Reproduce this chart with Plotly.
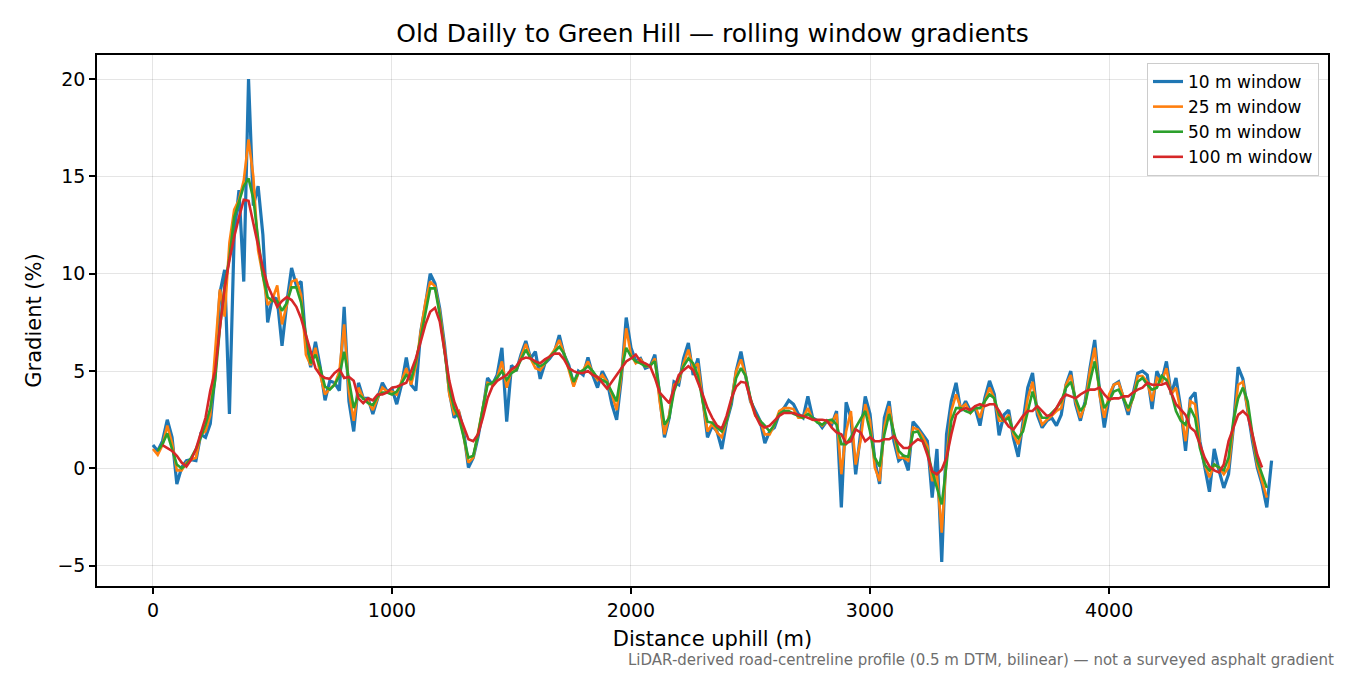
import plotly.graph_objects as go

# sample positions along the climb, every 20 m
distance_m = list(range(0, 4700, 20))

# gradient (%), one row = 200 m
grad_10m = [
    1.2, 0.9, 1.4, 2.5, 1.6, -0.8, 0.05, 0.4, 0.45, 0.4,
    1.75, 1.6, 2.3, 4.8, 9.0, 10.2, 2.8, 12.0, 14.3, 9.6,
    20.0, 13.5, 14.5, 12.0, 7.5, 8.8, 8.7, 6.3, 8.5, 10.3,
    9.4, 9.6, 6.4, 5.2, 6.5, 5.2, 3.5, 4.5, 4.4, 4.0,
    8.3, 3.45, 1.9, 4.4, 3.6, 3.6, 2.8, 3.6, 4.4, 3.95,
    4.1, 3.3, 4.3, 5.7, 4.3, 4.0, 7.0, 8.4, 10.0, 9.5,
    8.2, 6.35, 3.95, 2.6, 2.9, 1.9, 0.05, 0.55, 1.6, 2.95,
    4.65, 4.3, 4.8, 6.2, 2.4, 5.3, 5.0, 5.85, 6.55, 5.65,
    6.0, 4.6, 5.4, 5.65, 6.0, 6.85, 5.85, 5.3, 4.3, 5.0,
    4.8, 5.7, 4.8, 4.15, 5.0, 4.5, 3.3, 2.5, 4.65, 7.75,
    6.2, 5.5, 5.65, 5.15, 5.25, 5.85, 3.6, 1.6, 2.6, 4.45,
    4.3, 5.65, 6.45, 4.8, 5.65, 3.45, 1.6, 2.2, 1.9, 1.0,
    2.4, 3.3, 5.0, 6.0, 4.8, 3.45, 2.95, 2.45, 1.3, 1.9,
    2.1, 2.8, 3.1, 3.5, 3.3, 2.8, 2.6, 3.7, 2.6, 2.45,
    2.1, 2.45, 2.25, 2.95, -2.0, 3.4, 2.6, -0.3, 1.75, 3.7,
    2.8, 0.4, -0.8, 2.6, 3.45, 1.4, 0.4, 0.6, -0.1, 2.4,
    2.1, 1.75, 1.4, -1.5, 1.0, -4.8, 1.75, 3.45, 4.4, 2.95,
    3.45, 2.95, 3.1, 2.2, 3.6, 4.5, 3.8, 1.7, 2.75, 3.0,
    1.55, 0.6, 2.25, 4.15, 4.9, 2.75, 2.1, 2.45, 2.6, 2.2,
    2.75, 4.3, 5.0, 3.3, 2.45, 3.45, 5.15, 6.6, 4.0, 2.1,
    3.6, 4.3, 4.45, 3.6, 2.75, 3.8, 4.9, 5.0, 4.8, 3.05,
    5.0, 4.45, 5.5, 3.8, 4.65, 3.1, 0.9, 3.6, 3.9, 1.4,
    0.2, -1.2, 1.0, -0.1, -1.0, -0.3, 2.1, 5.2, 4.6, 2.95,
    1.4, 0.05, -0.8, -2.0, 0.4,
]

grad_25m = [
    1.0, 0.7, 1.2, 2.2, 1.3, -0.1, -0.1, 0.3, 0.45, 0.55,
    1.75, 1.9, 2.75, 5.85, 9.2, 7.8, 11.6, 13.3, 13.8, 14.8,
    16.9, 15.0, 11.2, 9.9, 8.4, 8.7, 9.4, 7.4, 8.4, 9.6,
    9.7, 8.9, 5.85, 5.3, 6.2, 4.8, 3.8, 4.1, 4.3, 5.0,
    7.4, 3.95, 2.45, 4.15, 3.6, 3.45, 3.0, 3.6, 4.15, 3.95,
    3.95, 3.8, 4.5, 5.15, 4.3, 5.25, 7.0, 8.55, 9.6, 9.35,
    8.05, 6.2, 3.8, 2.8, 2.95, 1.65, 0.3, 0.55, 1.75, 3.1,
    4.4, 4.3, 4.65, 5.5, 4.15, 5.0, 5.05, 5.7, 6.4, 5.65,
    5.15, 5.05, 5.4, 5.75, 6.1, 6.6, 5.9, 5.05, 4.2, 4.9,
    5.05, 5.5, 4.9, 4.55, 4.8, 4.45, 3.8, 3.0, 4.8, 7.2,
    5.85, 5.4, 5.6, 5.25, 5.25, 5.65, 3.45, 1.75, 2.75, 4.3,
    4.45, 5.4, 6.1, 5.15, 5.4, 3.45, 1.9, 2.3, 1.85, 1.6,
    2.45, 3.45, 5.0, 5.6, 4.75, 3.45, 2.7, 2.45, 1.75, 1.75,
    2.25, 2.95, 3.1, 3.1, 3.05, 2.6, 2.6, 3.1, 2.5, 2.45,
    2.2, 2.45, 2.35, 2.8, -0.3, 1.9, 2.95, 0.2, 1.4, 3.3,
    2.45, 0.05, -0.65, 2.1, 3.2, 1.75, 0.55, 0.55, 0.4, 2.1,
    2.0, 1.65, 1.15, -0.65, -0.3, -3.3, 0.55, 2.95, 3.8, 3.1,
    3.3, 2.85, 3.2, 2.6, 3.45, 4.15, 3.6, 2.45, 2.45, 2.75,
    1.75, 1.25, 2.1, 3.6, 4.45, 2.95, 2.25, 2.5, 2.7, 2.95,
    3.1, 4.3, 4.8, 3.45, 2.6, 3.3, 5.0, 6.2, 3.8, 2.6,
    3.8, 4.3, 4.4, 3.7, 2.95, 3.6, 4.75, 4.75, 4.45, 3.45,
    4.65, 4.45, 5.15, 3.8, 4.15, 2.95, 1.4, 3.45, 3.3, 1.25,
    0.2, -0.45, 0.2, 0.05, -0.3, 0.05, 2.25, 4.3, 4.45, 3.1,
    1.55, 0.2, -0.65, -1.5, None,
]

grad_50m = [
    None, 0.9, 1.25, 1.8, 1.05, 0.2, 0.0, 0.2, 0.55, 1.0,
    1.6, 2.25, 3.1, 4.5, 7.2, 9.4, 10.8, 12.9, 13.7, 14.5,
    14.9, 13.85, 11.8, 9.9, 8.8, 8.6, 8.6, 8.1, 8.5, 9.3,
    9.3, 8.5, 6.85, 5.4, 5.85, 5.15, 4.2, 4.05, 4.3, 4.75,
    6.0, 4.65, 3.1, 3.8, 3.6, 3.35, 3.25, 3.7, 3.9, 3.9,
    3.8, 3.95, 4.4, 4.8, 4.55, 5.5, 6.7, 8.05, 9.25, 9.25,
    7.9, 6.0, 4.15, 3.1, 2.6, 1.6, 0.55, 0.65, 1.75, 3.1,
    4.3, 4.4, 4.65, 5.0, 4.55, 4.9, 5.05, 5.6, 6.1, 5.65,
    5.4, 5.25, 5.4, 5.75, 6.0, 6.25, 5.9, 5.15, 4.45, 4.9,
    5.05, 5.25, 5.0, 4.65, 4.55, 4.4, 3.95, 3.45, 5.0, 6.2,
    5.75, 5.5, 5.4, 5.25, 5.3, 5.5, 3.95, 2.25, 2.6, 3.95,
    4.65, 5.25, 5.65, 5.4, 4.75, 3.45, 2.4, 2.35, 2.1, 1.9,
    2.45, 3.45, 4.65, 5.15, 4.75, 3.6, 2.8, 2.45, 2.2, 1.9,
    2.25, 2.8, 2.95, 2.95, 2.8, 2.7, 2.6, 2.8, 2.6, 2.35,
    2.25, 2.45, 2.5, 2.25, 1.25, 1.25, 1.6, 2.1, 2.5, 2.95,
    1.9, 0.55, 0.1, 1.75, 2.8, 1.9, 0.9, 0.65, 0.6, 1.85,
    1.9, 1.4, 0.9, -0.15, -1.0, -1.85, 0.2, 2.45, 3.1, 3.1,
    2.95, 2.85, 3.1, 3.1, 3.45, 3.8, 3.6, 2.75, 2.45, 2.6,
    1.9, 1.55, 1.9, 2.95, 3.95, 3.1, 2.6, 2.6, 2.85, 3.1,
    3.45, 4.15, 4.45, 3.6, 2.95, 3.3, 4.45, 5.5, 4.15, 3.1,
    3.45, 3.95, 4.05, 3.6, 3.1, 3.6, 4.45, 4.65, 4.3, 4.05,
    4.15, 4.75, 4.55, 3.9, 2.95, 2.45, 2.25, 3.1, 2.6, 1.05,
    0.2, -0.1, 0.2, 0.05, -0.1, 0.55, 2.45, 3.6, 4.15, 3.45,
    1.75, 0.4, -0.3, -1.0, None,
]

grad_100m = [
    None, None, 1.2, 1.05, 0.9, 0.65, 0.3, 0.1, 0.45, 1.0,
    1.75, 2.6, 4.0, 5.0, 7.2, 9.3, 10.7, 11.9, 12.9, 13.8,
    13.75, 12.6, 11.3, 10.3, 9.4, 8.8, 8.3, 8.6, 8.8, 8.65,
    8.3, 7.7, 6.9, 6.0, 5.15, 4.8, 4.65, 4.6, 4.9, 5.1,
    4.65, 4.7, 4.5, 3.6, 3.35, 3.6, 3.5, 3.8, 3.8, 3.9,
    4.15, 4.2, 4.3, 4.4, 5.0, 5.65, 6.5, 7.4, 8.05, 8.25,
    7.55, 6.0, 4.5, 3.45, 2.8, 2.1, 1.5, 1.4, 1.75, 2.6,
    3.6, 4.2, 4.5, 4.65, 4.8, 5.1, 5.25, 5.6, 5.7, 5.65,
    5.5, 5.4, 5.6, 5.75, 5.9, 5.9, 5.6, 5.15, 5.0, 4.9,
    4.9, 5.0, 4.8, 4.7, 4.4, 4.1, 4.45, 4.8, 5.1, 5.5,
    5.65, 5.85, 5.5, 5.4, 5.25, 4.65, 3.9, 3.6, 3.35, 4.1,
    4.8, 5.05, 5.25, 5.05, 4.45, 3.8, 3.1, 2.6, 2.2, 2.05,
    2.7, 3.6, 4.2, 4.45, 4.4, 3.6, 2.75, 2.25, 2.1, 2.2,
    2.45, 2.7, 2.85, 2.85, 2.85, 2.75, 2.7, 2.6, 2.5, 2.5,
    2.5, 2.45, 2.1, 1.85, 1.75, 1.3, 1.4, 2.0, 1.85, 1.4,
    1.6, 1.4, 1.4, 1.5, 1.5, 1.65, 1.3, 1.05, 1.05, 1.3,
    1.5, 1.4, 0.7, -0.15, -0.3, -0.05, 0.55, 1.75, 2.75, 3.0,
    3.1, 3.0, 3.2, 3.3, 3.2, 3.3, 3.3, 2.95, 2.5, 2.15,
    2.0, 2.35, 2.7, 2.95, 2.95, 3.2, 2.95, 2.7, 2.75, 3.1,
    3.55, 3.8, 3.7, 3.6, 3.8, 3.95, 4.05, 4.05, 4.15, 3.8,
    3.55, 3.6, 3.6, 3.7, 3.7, 3.9, 4.05, 4.15, 4.4, 4.3,
    4.3, 4.3, 4.4, 3.9, 3.3, 3.0, 2.75, 2.1, 1.9, 1.25,
    0.55, 0.1, -0.1, -0.2, 0.2, 1.4, 2.1, 2.75, 2.95, 2.7,
    1.75, 0.7, 0.05, None, None,
]

windows = ["10 m window", "25 m window", "50 m window", "100 m window"]
colors = ["#1f77b4", "#ff7f0e", "#2ca02c", "#d62728"]
widths = [3.2, 2.6, 2.6, 2.6]
series = [grad_10m, grad_25m, grad_50m, grad_100m]

FONT = "DejaVu Sans"

fig = go.Figure()
for name, color, width, values in zip(windows, colors, widths, series):
    fig.add_trace(
        go.Scatter(
            x=distance_m,
            y=values,
            mode="lines",
            name=name,
            legendgroup=name,
            line=dict(color=color, width=width),
            hovertemplate="%{x} m: %{y:.1f}%<extra>" + name + "</extra>",
        )
    )

axis_style = dict(
    showline=True,
    linecolor="black",
    linewidth=1.5,
    mirror=True,
    ticks="outside",
    ticklen=6,
    tickwidth=1.5,
    tickcolor="black",
    showgrid=True,
    gridcolor="rgba(0,0,0,0.1)",
    gridwidth=1.4,
    zeroline=False,
    tickfont=dict(family=FONT, size=19, color="black"),
)

# the page puts the figure 8 px in from the top-left corner
fig.update_layout(
    width=1350,
    height=675,
    template="plotly_white",
    paper_bgcolor="white",
    plot_bgcolor="white",
    margin=dict(l=89, r=30, t=47, b=97),
    font=dict(family=FONT, color="black"),
    title=dict(
        text="Old Dailly to Green Hill — rolling window gradients",
        x=0.5,
        xref="paper",
        xanchor="center",
        y=1 - 25 / 675,
        yanchor="middle",
        font=dict(family=FONT, size=25, color="black"),
    ),
    xaxis=dict(
        axis_style,
        range=[-234, 4916],
        tickvals=[0, 1000, 2000, 3000, 4000],
        title=dict(text="Distance uphill (m)", standoff=12,
                   font=dict(family=FONT, size=21, color="black")),
    ),
    yaxis=dict(
        axis_style,
        range=[-6.04, 21.24],
        tickvals=[-5, 0, 5, 10, 15, 20],
        ticktext=["−5", "0", "5", "10", "15", "20"],
        title=dict(text="Gradient (%)", standoff=10,
                   font=dict(family=FONT, size=21, color="black")),
    ),
    legend=dict(
        x=0.9927,
        y=0.985,
        xanchor="right",
        yanchor="top",
        bgcolor="rgba(255,255,255,0.85)",
        bordercolor="#cccccc",
        borderwidth=1,
        font=dict(family=FONT, size=17, color="black"),
        tracegroupgap=0,
    ),
    showlegend=True,
)

fig.add_annotation(
    text="LiDAR-derived road-centreline profile (0.5 m DTM, bilinear) — not a surveyed asphalt gradient",
    xref="paper",
    yref="paper",
    x=1.0065,
    y=-0.139,
    xanchor="right",
    yanchor="middle",
    showarrow=False,
    font=dict(family=FONT, size=15, color="#6e6e6e"),
)

fig.write_html("out.html")
